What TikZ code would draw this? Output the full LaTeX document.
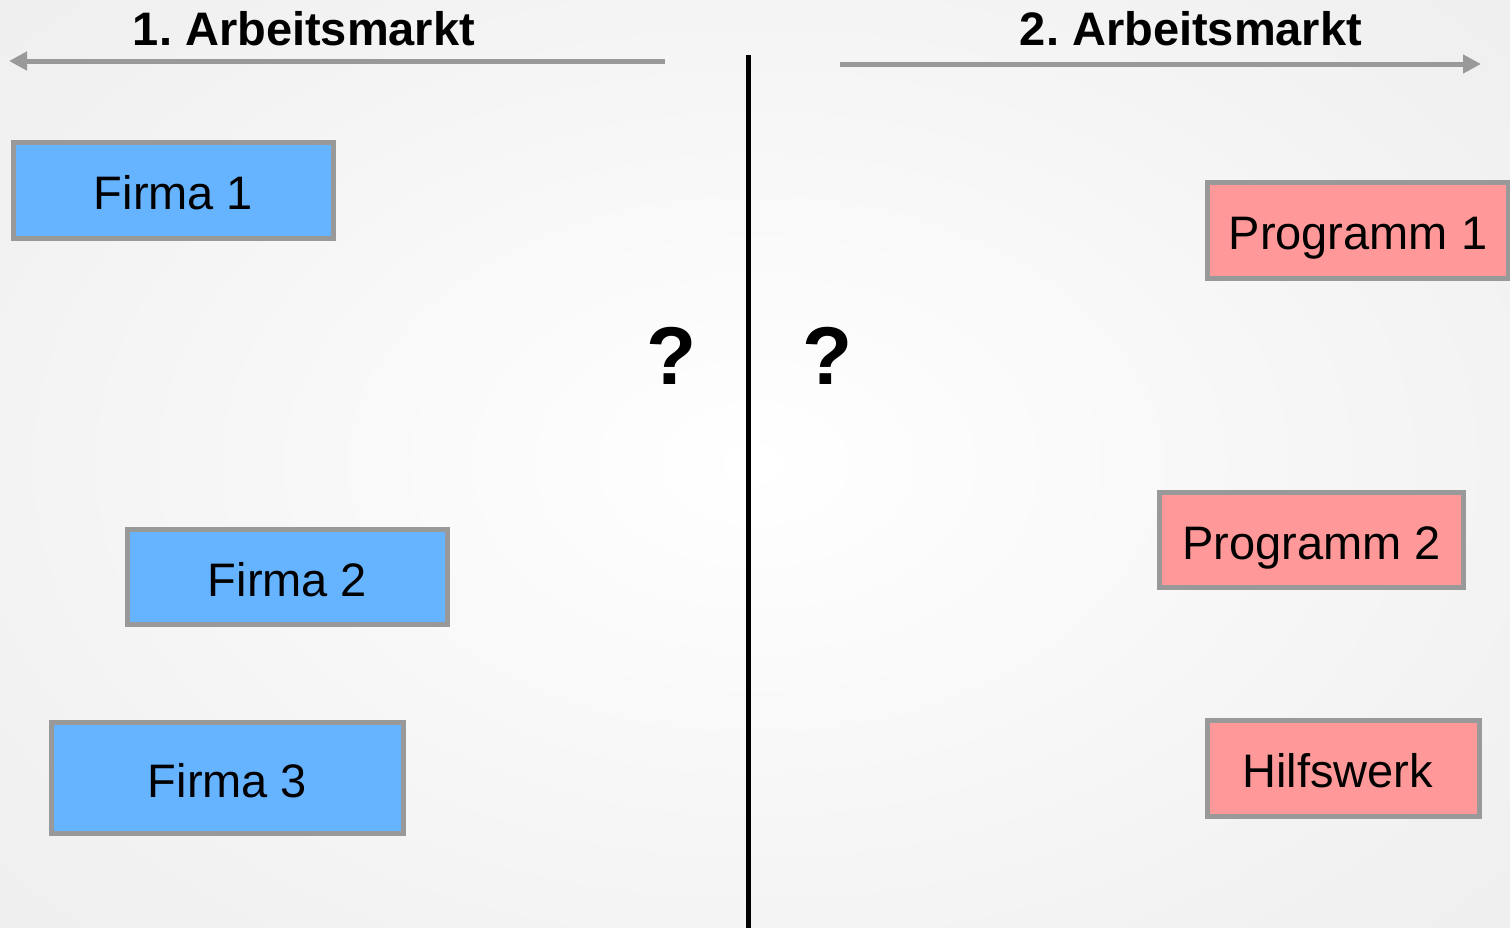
\documentclass[tikz,border=0pt]{standalone}
\usepackage{fontspec}
\setmainfont{Liberation Sans}
\usetikzlibrary{arrows.meta}
\definecolor{boxblue}{HTML}{66B3FF}
\definecolor{boxpink}{HTML}{FF9999}
\definecolor{bordergray}{HTML}{999999}
\definecolor{bgedge}{HTML}{EFEFEF}
\frenchspacing
\begin{document}
\begin{tikzpicture}[x=1pt,y=-1pt,
  box/.style={draw=bordergray,line width=5pt,inner sep=0pt,font=\fontsize{47}{50}\selectfont,text height=38pt,text depth=0pt},
  firm/.style={box,fill=boxblue},
  prog/.style={box,fill=boxpink},
  title/.style={font=\fontsize{47}{50}\selectfont\bfseries,anchor=base},
  qmark/.style={font=\fontsize{82}{86}\selectfont\bfseries},
  marketarrow/.style={draw=bordergray,line width=5pt,-{Triangle[length=18pt,width=18pt]}}]
\useasboundingbox (0,0) rectangle (1510,927);
\shade[inner color=white,outer color=bgedge] (-250,-200) rectangle (1760,1127);
% titles
\node[title] (t1) at (304,45) {1. Arbeitsmarkt};
\node[title] (t2) at (1191,45) {2. Arbeitsmarkt};
% arrows
\coordinate (a1s) at (665,61);
\coordinate (a1e) at (9,61);
\coordinate (a2s) at (840,64);
\coordinate (a2e) at (1481,64);
\draw[marketarrow] (a1s) -- (a1e);
\draw[marketarrow] (a2s) -- (a2e);
% divider
\coordinate (dtop) at (748,55);
\coordinate (dbot) at (748,930);
\draw[line width=5pt,black] (dtop) -- (dbot);
% question marks
\node[qmark] (q1) at (672,356) {?};
\node[qmark] (q2) at (828,356) {?};
% boxes
\node[firm,minimum width=320pt,minimum height=96pt] (f1) at (173.5,190.5) {Firma 1};
\node[firm,minimum width=320pt,minimum height=95pt] (f2) at (287.5,577) {Firma 2};
\node[firm,minimum width=352pt,minimum height=111pt] (f3) at (227.5,778) {Firma 3};
\node[prog,minimum width=301pt,minimum height=96pt] (p1) at (1358,230.5) {Programm 1};
\node[prog,minimum width=304pt,minimum height=95pt] (p2) at (1311.5,540) {Programm 2};
\node[prog,minimum width=272pt,minimum height=96pt] (h) at (1343.5,768.5) {\hspace*{-12pt}Hilfswerk};
\end{tikzpicture}
\end{document}
